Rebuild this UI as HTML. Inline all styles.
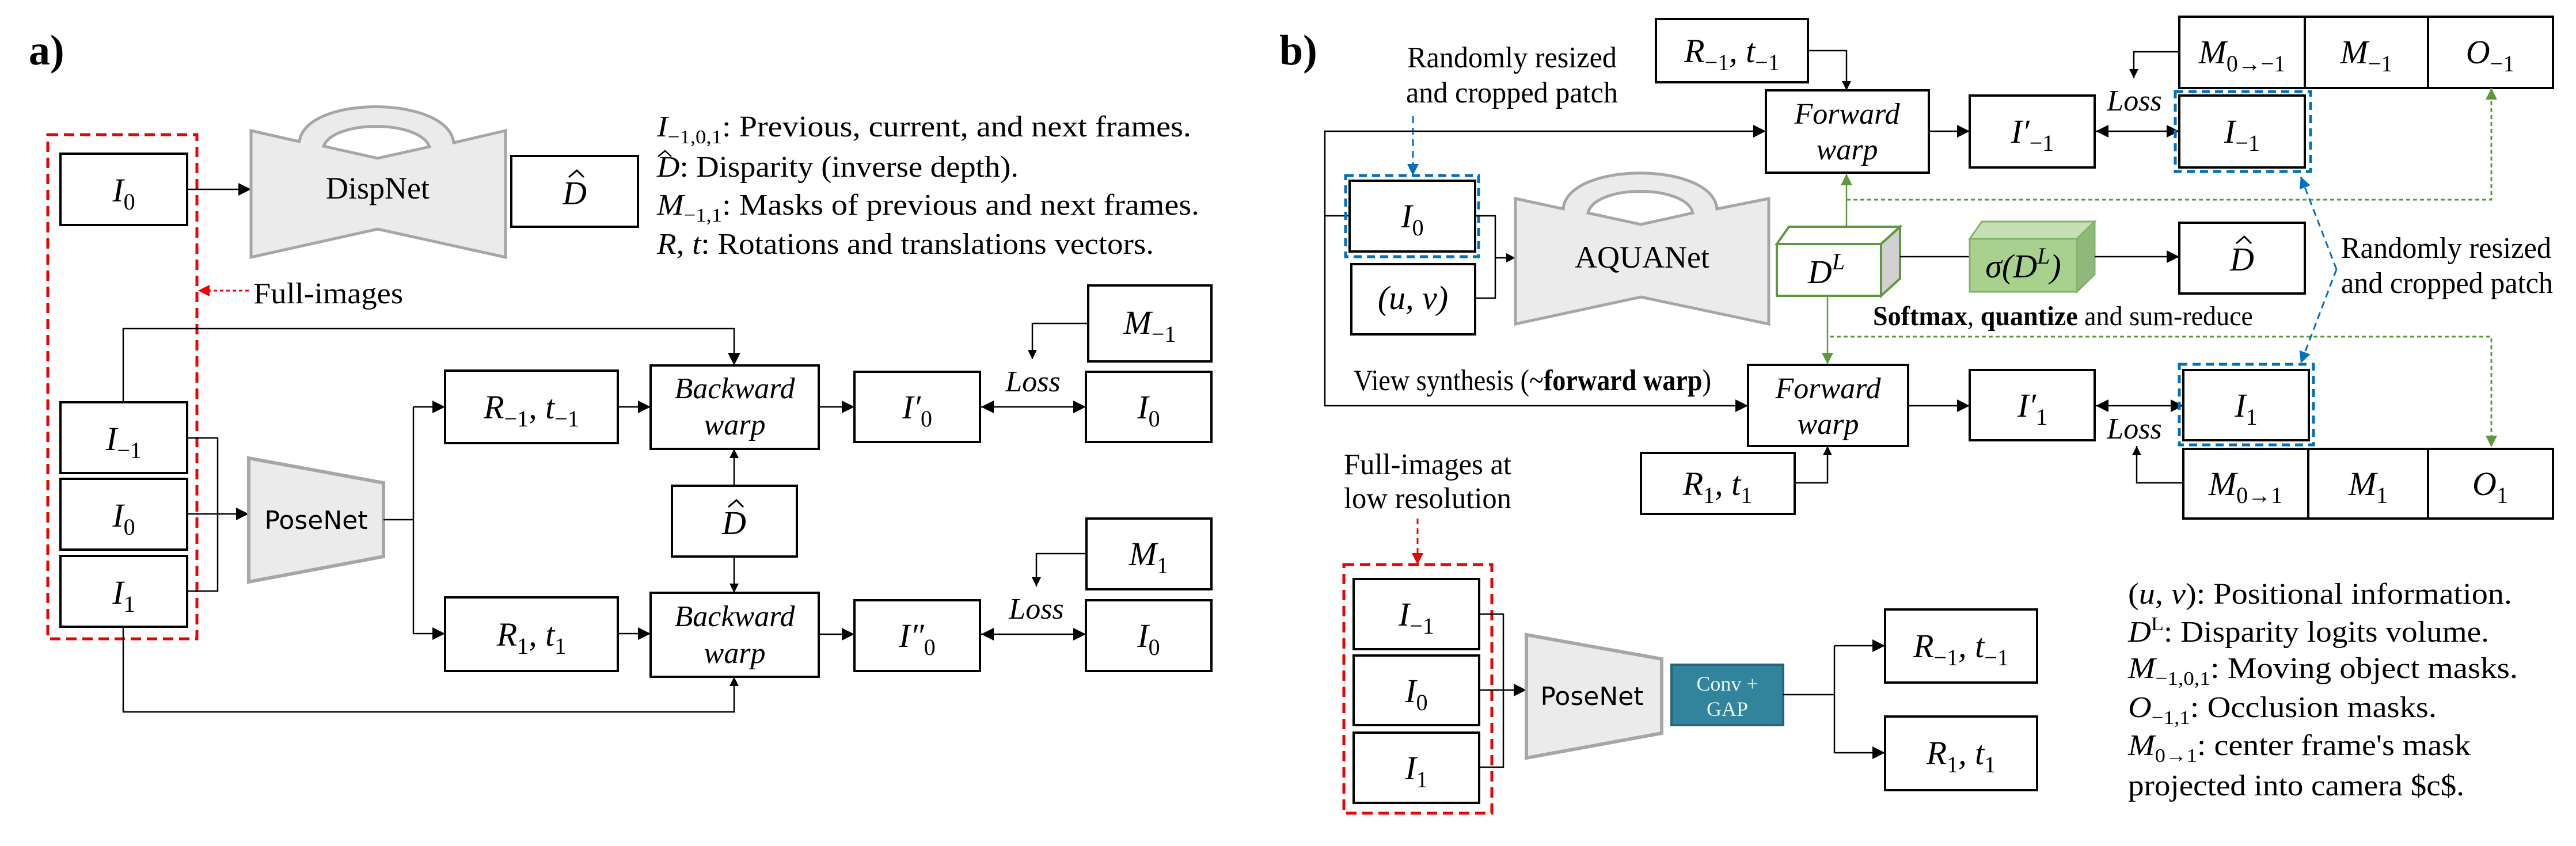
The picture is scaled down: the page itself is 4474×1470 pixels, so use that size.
<!DOCTYPE html>
<html><head><meta charset="utf-8"><style>
html,body{margin:0;padding:0;background:#fff}
svg{display:block}
text{font-family:"Liberation Serif","DejaVu Serif",serif;fill:#000}
.m{font-size:58px;font-style:italic}
.s{font-size:40px;font-style:normal}
.l{font-size:52px}
.i{font-style:italic}
.ls{font-size:34px;font-style:normal}
.b{stroke:#000;stroke-width:4;fill:#fff}
.c{stroke:#000;stroke-width:2.5;fill:none}
.sans{font-family:"DejaVu Sans","Liberation Sans",sans-serif}
</style></head><body>
<svg width="4474" height="1470" viewBox="0 0 4474 1470" xmlns="http://www.w3.org/2000/svg" font-family="'Liberation Serif', serif">
<defs>
<marker id="ah" viewBox="0 0 10 10" refX="10" refY="5" markerWidth="22" markerHeight="28" markerUnits="userSpaceOnUse" orient="auto-start-reverse"><path d="M0,0 L10,5 L0,10z" fill="#000"/></marker>
<marker id="ahs" viewBox="0 0 10 10" refX="10" refY="5" markerWidth="16" markerHeight="22" markerUnits="userSpaceOnUse" orient="auto-start-reverse"><path d="M0,0 L10,5 L0,10z" fill="#000"/></marker>
<marker id="ar" viewBox="0 0 10 10" refX="10" refY="5" markerWidth="20" markerHeight="24" markerUnits="userSpaceOnUse" orient="auto"><path d="M0,0 L10,5 L0,10z" fill="#e00"/></marker>
<marker id="ab" viewBox="0 0 10 10" refX="10" refY="5" markerWidth="20" markerHeight="24" markerUnits="userSpaceOnUse" orient="auto"><path d="M0,0 L10,5 L0,10z" fill="#0070c0"/></marker>
<marker id="ag" viewBox="0 0 10 10" refX="10" refY="5" markerWidth="20" markerHeight="24" markerUnits="userSpaceOnUse" orient="auto"><path d="M0,0 L10,5 L0,10z" fill="#5b9a3c"/></marker>
</defs>

<!-- ===== Panel a ===== -->
<text x="50" y="112" style="font-size:74px;font-weight:bold">a)</text>
<rect x="83" y="234" width="259" height="876" fill="none" stroke="#e00" stroke-width="5" stroke-dasharray="18 10"/>

<rect class="b" x="105" y="267" width="220" height="124"/>
<text class="m" x="215" y="350" text-anchor="middle">I<tspan class="s" dy="14">0</tspan></text>
<line class="c" x1="325" y1="329" x2="436" y2="329" marker-end="url(#ah)"/>

<path d="M436,227 L520,246 C530,165 778,165 788,248 L878,227 L878,447 L656,398 L436,447 Z" fill="#ebebeb" stroke="#a6a6a6" stroke-width="5"/>
<path d="M562,254 C580,208 728,208 746,255 L656,275 Z" fill="#fff" stroke="#a6a6a6" stroke-width="5"/>
<text x="656" y="345" text-anchor="middle" style="font-size:54px">DispNet</text>

<rect class="b" x="888" y="271" width="220" height="123"/>
<text class="m" x="998" y="355" text-anchor="middle">D</text>
<path d="M988,308 L1002,296 L1014,308" fill="none" stroke="#000" stroke-width="3"/>

<text class="l" x="1141" y="237" textLength="928" lengthAdjust="spacingAndGlyphs"><tspan class="i">I</tspan><tspan class="ls" dy="12">−1,0,1</tspan><tspan dy="-12">: Previous, current, and next frames.</tspan></text>
<text class="l" x="1141" y="307" textLength="628" lengthAdjust="spacingAndGlyphs"><tspan class="i">D</tspan>: Disparity (inverse depth).</text>
<path d="M1143,272 L1155,262 L1166,272" fill="none" stroke="#000" stroke-width="2.5"/>
<text class="l" x="1141" y="373" textLength="942" lengthAdjust="spacingAndGlyphs"><tspan class="i">M</tspan><tspan class="ls" dy="12">−1,1</tspan><tspan dy="-12">: Masks of previous and next frames.</tspan></text>
<text class="l" x="1141" y="441" textLength="863" lengthAdjust="spacingAndGlyphs"><tspan class="i">R</tspan>, <tspan class="i">t</tspan>: Rotations and translations vectors.</text>

<text class="l" x="440" y="527" textLength="260" lengthAdjust="spacingAndGlyphs">Full-images</text>
<line x1="432" y1="505" x2="344" y2="505" stroke="#e00" stroke-width="3" stroke-dasharray="6 5" marker-end="url(#ar)"/>

<polyline class="c" points="214,699 214,571 1275,571 1275,635" marker-end="url(#ah)"/>

<rect class="b" x="105" y="699" width="220" height="123"/>
<text class="m" x="215" y="782" text-anchor="middle">I<tspan class="s" dy="14">−1</tspan></text>
<rect class="b" x="105" y="832" width="220" height="123"/>
<text class="m" x="215" y="915" text-anchor="middle">I<tspan class="s" dy="14">0</tspan></text>
<rect class="b" x="105" y="966" width="220" height="123"/>
<text class="m" x="215" y="1049" text-anchor="middle">I<tspan class="s" dy="14">1</tspan></text>

<polyline class="c" points="325,761 378,761 378,1027 325,1027"/>
<line class="c" x1="325" y1="893" x2="432" y2="893" marker-end="url(#ah)"/>

<polygon points="432,796 666,839 666,967 432,1011" fill="#ebebeb" stroke="#a6a6a6" stroke-width="6"/>
<text class="sans" x="549" y="919" text-anchor="middle" style="font-size:44px">PoseNet</text>

<line class="c" x1="666" y1="903" x2="718" y2="903"/>
<line class="c" x1="718" y1="707" x2="718" y2="1101"/>
<line class="c" x1="718" y1="707" x2="773" y2="707" marker-end="url(#ah)"/>
<line class="c" x1="718" y1="1101" x2="773" y2="1101" marker-end="url(#ah)"/>

<rect class="b" x="773" y="644" width="300" height="126"/>
<text class="m" x="923" y="727" text-anchor="middle">R<tspan class="s" dy="14">−1</tspan><tspan dy="-14">, t</tspan><tspan class="s" dy="14">−1</tspan></text>
<line class="c" x1="1073" y1="707" x2="1130" y2="707" marker-end="url(#ah)"/>

<rect class="b" x="1130" y="635" width="292" height="145"/>
<text class="m" x="1276" y="692" text-anchor="middle" style="font-size:52px">Backward</text>
<text class="m" x="1276" y="755" text-anchor="middle" style="font-size:52px">warp</text>
<line class="c" x1="1422" y1="707" x2="1484" y2="707" marker-end="url(#ah)"/>

<rect class="b" x="1484" y="646" width="218" height="122"/>
<text class="m" x="1593" y="727" text-anchor="middle">I′<tspan class="s" dy="14">0</tspan></text>
<line class="c" x1="1704" y1="707" x2="1886" y2="707" marker-start="url(#ah)" marker-end="url(#ah)"/>
<text class="l i" x="1794" y="680" text-anchor="middle">Loss</text>
<rect class="b" x="1886" y="646" width="218" height="122"/>
<text class="m" x="1995" y="727" text-anchor="middle">I<tspan class="s" dy="14">0</tspan></text>

<rect class="b" x="1890" y="496" width="214" height="132"/>
<text class="m" x="1997" y="580" text-anchor="middle">M<tspan class="s" dy="14">−1</tspan></text>
<polyline class="c" points="1890,562 1793,562 1793,624" marker-end="url(#ahs)"/>

<rect class="b" x="1167" y="844" width="217" height="123"/>
<text class="m" x="1275" y="928" text-anchor="middle">D</text>
<path d="M1265,881 L1279,869 L1291,881" fill="none" stroke="#000" stroke-width="3"/>
<line class="c" x1="1275" y1="844" x2="1275" y2="780" marker-end="url(#ahs)"/>
<line class="c" x1="1275" y1="967" x2="1275" y2="1030" marker-end="url(#ahs)"/>

<rect class="b" x="773" y="1038" width="300" height="128"/>
<text class="m" x="923" y="1122" text-anchor="middle">R<tspan class="s" dy="14">1</tspan><tspan dy="-14">, t</tspan><tspan class="s" dy="14">1</tspan></text>
<line class="c" x1="1073" y1="1101" x2="1130" y2="1101" marker-end="url(#ah)"/>

<rect class="b" x="1130" y="1030" width="292" height="146"/>
<text class="m" x="1276" y="1088" text-anchor="middle" style="font-size:52px">Backward</text>
<text class="m" x="1276" y="1152" text-anchor="middle" style="font-size:52px">warp</text>
<line class="c" x1="1422" y1="1102" x2="1484" y2="1102" marker-end="url(#ah)"/>

<rect class="b" x="1484" y="1043" width="218" height="123"/>
<text class="m" x="1593" y="1124" text-anchor="middle">I″<tspan class="s" dy="14">0</tspan></text>
<line class="c" x1="1704" y1="1102" x2="1886" y2="1102" marker-start="url(#ah)" marker-end="url(#ah)"/>
<text class="l i" x="1800" y="1075" text-anchor="middle">Loss</text>
<rect class="b" x="1886" y="1043" width="218" height="123"/>
<text class="m" x="1995" y="1124" text-anchor="middle">I<tspan class="s" dy="14">0</tspan></text>

<rect class="b" x="1887" y="901" width="217" height="123"/>
<text class="m" x="1995" y="982" text-anchor="middle">M<tspan class="s" dy="14">1</tspan></text>
<polyline class="c" points="1887,962 1800,962 1800,1019" marker-end="url(#ahs)"/>

<polyline class="c" points="214,1089 214,1237 1275,1237 1275,1176" marker-end="url(#ahs)"/>

<!-- ===== Panel b ===== -->
<text x="2222" y="112" style="font-size:74px;font-weight:bold">b)</text>
<text class="l" x="2444" y="117" textLength="364" lengthAdjust="spacingAndGlyphs">Randomly resized</text>
<text class="l" x="2442" y="178" textLength="368" lengthAdjust="spacingAndGlyphs">and cropped patch</text>
<line x1="2454" y1="202" x2="2454" y2="305" stroke="#0070c0" stroke-width="3" stroke-dasharray="12 8" marker-end="url(#ab)"/>

<rect class="b" x="2876" y="33" width="264" height="110"/>
<text class="m" x="3008" y="108" text-anchor="middle">R<tspan class="s" dy="14">−1</tspan><tspan dy="-14">, t</tspan><tspan class="s" dy="14">−1</tspan></text>
<polyline class="c" points="3140,88 3207,88 3207,157" marker-end="url(#ahs)"/>

<rect class="b" x="3067" y="157" width="283" height="143"/>
<text class="m" x="3208" y="215" text-anchor="middle" style="font-size:52px">Forward</text>
<text class="m" x="3208" y="277" text-anchor="middle" style="font-size:52px">warp</text>
<line class="c" x1="3350" y1="228" x2="3421" y2="228" marker-end="url(#ah)"/>

<rect class="b" x="3421" y="166" width="217" height="125"/>
<text class="m" x="3530" y="248" text-anchor="middle">I′<tspan class="s" dy="14">−1</tspan></text>
<line class="c" x1="3640" y1="228" x2="3785" y2="228" marker-start="url(#ah)" marker-end="url(#ah)"/>
<text class="l i" x="3707" y="192" text-anchor="middle">Loss</text>

<rect class="b" x="3785" y="166" width="218" height="125"/>
<text class="m" x="3894" y="248" text-anchor="middle">I<tspan class="s" dy="14">−1</tspan></text>
<rect x="3778" y="159" width="235" height="139" fill="none" stroke="#0070c0" stroke-width="5" stroke-dasharray="14 9"/>

<rect class="b" x="3785" y="29" width="649" height="124"/>
<line x1="4003" y1="29" x2="4003" y2="153" stroke="#000" stroke-width="4"/>
<line x1="4217" y1="29" x2="4217" y2="153" stroke="#000" stroke-width="4"/>
<text class="m" x="3894" y="110" text-anchor="middle">M<tspan class="s" dy="14">0→−1</tspan></text>
<text class="m" x="4110" y="110" text-anchor="middle">M<tspan class="s" dy="14">−1</tspan></text>
<text class="m" x="4325" y="110" text-anchor="middle">O<tspan class="s" dy="14">−1</tspan></text>
<polyline class="c" points="3785,90 3706,90 3706,136" marker-end="url(#ahs)"/>

<polyline points="3207,347 4327,347 4327,153" fill="none" stroke="#5b9a3c" stroke-width="3" stroke-dasharray="7 5" marker-end="url(#ag)"/>

<polyline class="c" points="2301,375 2301,228 3067,228" marker-end="url(#ah)"/>
<polyline class="c" points="2301,375 2301,705 3036,705" marker-end="url(#ah)"/>
<line class="c" x1="2301" y1="375" x2="2344" y2="375"/>

<rect class="b" x="2344" y="314" width="218" height="123"/>
<text class="m" x="2453" y="395" text-anchor="middle">I<tspan class="s" dy="14">0</tspan></text>
<rect x="2337" y="305" width="231" height="141" fill="none" stroke="#0070c0" stroke-width="5" stroke-dasharray="14 9"/>

<rect class="b" x="2347" y="459" width="215" height="122"/>
<text class="m" x="2454" y="537" text-anchor="middle">(u, v)</text>
<polyline class="c" points="2562,375 2597,375 2597,518 2562,518"/>
<line class="c" x1="2597" y1="448" x2="2632" y2="448" marker-end="url(#ahs)"/>

<path d="M2632,345 L2715,363 C2722,280 2975,280 2982,363 L3072,345 L3072,563 L2850,516 L2632,563 Z" fill="#ebebeb" stroke="#a6a6a6" stroke-width="5"/>
<path d="M2758,370 C2770,320 2928,320 2940,370 L2850,390 Z" fill="#fff" stroke="#a6a6a6" stroke-width="5"/>
<text x="2852" y="465" text-anchor="middle" style="font-size:54px">AQUANet</text>

<line x1="3207" y1="394" x2="3207" y2="302" stroke="#5b9a3c" stroke-width="2.5" marker-end="url(#ag)"/>
<line x1="3174" y1="514" x2="3174" y2="633" stroke="#5b9a3c" stroke-width="2.5" marker-end="url(#ag)"/>
<polyline points="3178,585 4327,585 4327,777" fill="none" stroke="#5b9a3c" stroke-width="3" stroke-dasharray="7 5" marker-end="url(#ag)"/>

<polygon points="3086,424 3107,394 3300,394 3267,424" fill="#fff" stroke="#5b9a3c" stroke-width="4"/>
<polygon points="3267,424 3300,394 3300,484 3267,514" fill="#d0d0d0" stroke="#5b9a3c" stroke-width="4"/>
<rect x="3086" y="424" width="181" height="90" fill="#fff" stroke="#5b9a3c" stroke-width="4"/>
<text class="m" x="3172" y="492" text-anchor="middle">D<tspan class="s i" dy="-24">L</tspan></text>

<line class="c" x1="3300" y1="446" x2="3421" y2="446"/>
<polygon points="3421,415 3442,385 3638,385 3607,415" fill="#c5e0b4" stroke="#82b366" stroke-width="3"/>
<polygon points="3607,415 3638,385 3638,477 3607,507" fill="#8fb87a" stroke="#82b366" stroke-width="3"/>
<rect x="3421" y="415" width="186" height="92" fill="#a9d18e" stroke="#82b366" stroke-width="3"/>
<text class="m" x="3514" y="482" text-anchor="middle">σ(D<tspan class="s i" dy="-24">L</tspan><tspan dy="24">)</tspan></text>
<line class="c" x1="3638" y1="446" x2="3785" y2="446" marker-end="url(#ah)"/>

<rect class="b" x="3785" y="387" width="218" height="123"/>
<text class="m" x="3894" y="470" text-anchor="middle">D</text>
<path d="M3884,423 L3898,411 L3910,423" fill="none" stroke="#000" stroke-width="3"/>

<text x="3253" y="565" style="font-size:48px" textLength="660" lengthAdjust="spacingAndGlyphs"><tspan font-weight="bold">Softmax</tspan>, <tspan font-weight="bold">quantize</tspan> and sum-reduce</text>

<line x1="4058" y1="468" x2="3996" y2="307" stroke="#0070c0" stroke-width="3" stroke-dasharray="12 8" marker-end="url(#ab)"/>
<line x1="4058" y1="468" x2="3996" y2="631" stroke="#0070c0" stroke-width="3" stroke-dasharray="12 8" marker-end="url(#ab)"/>
<text class="l" x="4066" y="448" textLength="365" lengthAdjust="spacingAndGlyphs">Randomly resized</text>
<text class="l" x="4066" y="509" textLength="368" lengthAdjust="spacingAndGlyphs">and cropped patch</text>

<text class="l" x="2351" y="678" textLength="621" lengthAdjust="spacingAndGlyphs">View synthesis (~<tspan font-weight="bold">forward warp</tspan>)</text>

<rect class="b" x="3036" y="634" width="278" height="141"/>
<text class="m" x="3175" y="692" text-anchor="middle" style="font-size:52px">Forward</text>
<text class="m" x="3175" y="754" text-anchor="middle" style="font-size:52px">warp</text>
<line class="c" x1="3314" y1="705" x2="3421" y2="705" marker-end="url(#ah)"/>

<rect class="b" x="3421" y="643" width="217" height="122"/>
<text class="m" x="3530" y="724" text-anchor="middle">I′<tspan class="s" dy="14">1</tspan></text>
<line class="c" x1="3640" y1="705" x2="3792" y2="705" marker-start="url(#ah)" marker-end="url(#ah)"/>
<text class="l i" x="3707" y="762" text-anchor="middle">Loss</text>

<rect class="b" x="3792" y="643" width="218" height="122"/>
<text class="m" x="3901" y="724" text-anchor="middle">I<tspan class="s" dy="14">1</tspan></text>
<rect x="3785" y="633" width="233" height="140" fill="none" stroke="#0070c0" stroke-width="5" stroke-dasharray="14 9"/>

<rect class="b" x="2850" y="787" width="267" height="106"/>
<text class="m" x="2983" y="860" text-anchor="middle">R<tspan class="s" dy="14">1</tspan><tspan dy="-14">, t</tspan><tspan class="s" dy="14">1</tspan></text>
<polyline class="c" points="3117,839 3174,839 3174,775" marker-end="url(#ahs)"/>

<rect class="b" x="3792" y="780" width="642" height="121"/>
<line x1="4009" y1="780" x2="4009" y2="901" stroke="#000" stroke-width="4"/>
<line x1="4217" y1="780" x2="4217" y2="901" stroke="#000" stroke-width="4"/>
<text class="m" x="3900" y="860" text-anchor="middle">M<tspan class="s" dy="14">0→1</tspan></text>
<text class="m" x="4113" y="860" text-anchor="middle">M<tspan class="s" dy="14">1</tspan></text>
<text class="m" x="4325" y="860" text-anchor="middle">O<tspan class="s" dy="14">1</tspan></text>
<polyline class="c" points="3792,839 3711,839 3711,775" marker-end="url(#ahs)"/>

<text class="l" x="2334" y="824" textLength="291" lengthAdjust="spacingAndGlyphs">Full-images at</text>
<text class="l" x="2334" y="883" textLength="291" lengthAdjust="spacingAndGlyphs">low resolution</text>
<line x1="2462" y1="901" x2="2462" y2="981" stroke="#e00" stroke-width="3" stroke-dasharray="10 7" marker-end="url(#ar)"/>
<rect x="2334" y="981" width="257" height="432" fill="none" stroke="#e00" stroke-width="5" stroke-dasharray="18 10"/>

<rect class="b" x="2351" y="1006" width="218" height="122"/>
<text class="m" x="2460" y="1087" text-anchor="middle">I<tspan class="s" dy="14">−1</tspan></text>
<rect class="b" x="2351" y="1139" width="218" height="121"/>
<text class="m" x="2460" y="1220" text-anchor="middle">I<tspan class="s" dy="14">0</tspan></text>
<rect class="b" x="2351" y="1273" width="218" height="122"/>
<text class="m" x="2460" y="1354" text-anchor="middle">I<tspan class="s" dy="14">1</tspan></text>

<polyline class="c" points="2569,1067 2611,1067 2611,1333 2569,1333"/>
<line class="c" x1="2569" y1="1199" x2="2651" y2="1199" marker-end="url(#ah)"/>

<polygon points="2651,1103 2886,1145 2886,1274 2651,1317" fill="#ebebeb" stroke="#a6a6a6" stroke-width="6"/>
<text class="sans" x="2765" y="1225" text-anchor="middle" style="font-size:44px">PoseNet</text>

<rect x="2903" y="1155" width="194" height="105" fill="#31849b" stroke="#25667a" stroke-width="4"/>
<text x="3000" y="1200" text-anchor="middle" style="font-size:36px;fill:#e6f3f6">Conv +</text>
<text x="3000" y="1244" text-anchor="middle" style="font-size:36px;fill:#e6f3f6">GAP</text>

<line class="c" x1="3097" y1="1207" x2="3186" y2="1207"/>
<line class="c" x1="3186" y1="1122" x2="3186" y2="1308"/>
<line class="c" x1="3186" y1="1122" x2="3274" y2="1122" marker-end="url(#ah)"/>
<line class="c" x1="3186" y1="1308" x2="3274" y2="1308" marker-end="url(#ah)"/>

<rect class="b" x="3274" y="1059" width="264" height="127"/>
<text class="m" x="3406" y="1142" text-anchor="middle">R<tspan class="s" dy="14">−1</tspan><tspan dy="-14">, t</tspan><tspan class="s" dy="14">−1</tspan></text>
<rect class="b" x="3274" y="1245" width="264" height="128"/>
<text class="m" x="3406" y="1328" text-anchor="middle">R<tspan class="s" dy="14">1</tspan><tspan dy="-14">, t</tspan><tspan class="s" dy="14">1</tspan></text>

<text class="l" x="3696" y="1049" textLength="667" lengthAdjust="spacingAndGlyphs">(<tspan class="i">u</tspan>, <tspan class="i">v</tspan>): Positional information.</text>
<text class="l" x="3696" y="1115" textLength="627" lengthAdjust="spacingAndGlyphs"><tspan class="i">D</tspan><tspan class="ls i" dy="-20">L</tspan><tspan dy="20">: Disparity logits volume.</tspan></text>
<text class="l" x="3696" y="1178" textLength="677" lengthAdjust="spacingAndGlyphs"><tspan class="i">M</tspan><tspan class="ls" dy="12">−1,0,1</tspan><tspan dy="-12">: Moving object masks.</tspan></text>
<text class="l" x="3696" y="1246" textLength="536" lengthAdjust="spacingAndGlyphs"><tspan class="i">O</tspan><tspan class="ls" dy="12">−1,1</tspan><tspan dy="-12">: Occlusion masks.</tspan></text>
<text class="l" x="3696" y="1312" textLength="595" lengthAdjust="spacingAndGlyphs"><tspan class="i">M</tspan><tspan class="ls" dy="12">0→1</tspan><tspan dy="-12">: center frame's mask</tspan></text>
<text class="l" x="3696" y="1382" textLength="584" lengthAdjust="spacingAndGlyphs">projected into camera $c$.</text>
</svg>
</body></html>
